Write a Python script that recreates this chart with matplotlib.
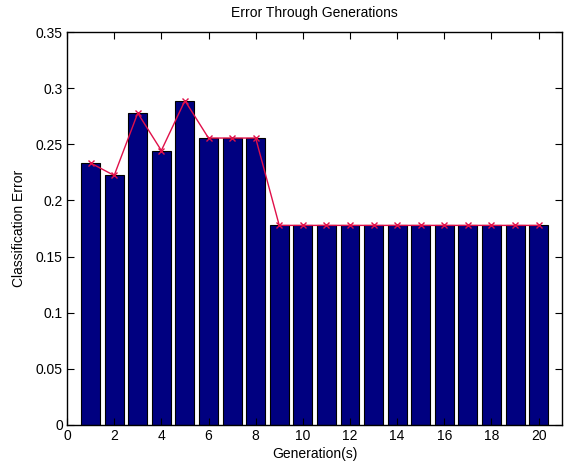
import numpy as np
import matplotlib
matplotlib.use('Agg')
import matplotlib.pyplot as plt

plt.rcParams['font.family'] = ['Liberation Sans', 'DejaVu Sans']

generations = list(range(1, 21))
errors = [21/90, 20/90, 25/90, 22/90, 26/90, 23/90, 23/90, 23/90] + [16/90] * 12
xticks = [0, 2, 4, 6, 8, 10, 12, 14, 16, 18, 20]
yticks = [0, 0.05, 0.1, 0.15, 0.2, 0.25, 0.3, 0.35]

fig = plt.figure(figsize=(5.65, 4.68), dpi=100)
ax = fig.add_axes([0.1186, 0.0919, 0.8765, 0.8397])

ax.bar(generations, errors, width=0.8, color='#000080', edgecolor='black', linewidth=0.8)
ax.plot(generations, errors, color='#e0104a', marker='x', markersize=5, linewidth=1.0)

ax.set_xlim(0, 21)
ax.set_ylim(0, 0.35)
ax.set_xticks(xticks)
ax.set_yticks(yticks)
ax.set_yticklabels(['0', '0.05', '0.1', '0.15', '0.2', '0.25', '0.3', '0.35'])
ax.tick_params(direction='in', top=True, right=True, length=5, labelsize=10, width=0.8, pad=3)
for s in ax.spines.values():
    s.set_linewidth(1.0)

ax.set_xlabel('Generation(s)', fontsize=10, labelpad=3)
ax.set_ylabel('Classification Error', fontsize=10, labelpad=7)
ax.set_title('Error Through Generations', fontsize=10, pad=11)

plt.savefig('out.png', dpi=100)
